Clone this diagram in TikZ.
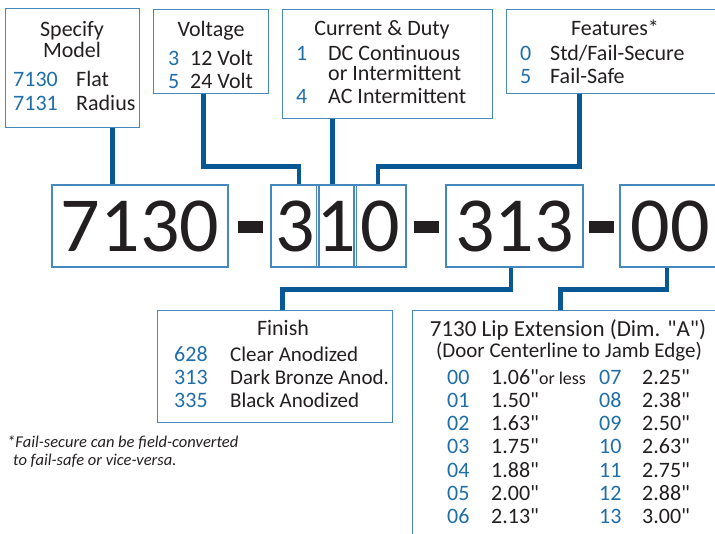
\documentclass[tikz,border=0pt]{standalone}
\usepackage{fontspec}
\setmainfont{Carlito}[Ligatures=TeXOff]
\definecolor{linkblue}{RGB}{8,88,150}
\definecolor{frameblue}{RGB}{70,135,190}
\definecolor{codeblue}{RGB}{30,110,170}
\definecolor{ink}{RGB}{35,31,32}
\begin{document}
\begin{tikzpicture}[x=1pt, y=-1pt,
    infobox/.style={draw=frameblue, line width=1.3pt, anchor=north west, inner sep=0pt},
    digitbox/.style={draw=frameblue, line width=1.3pt, minimum height=82pt, inner sep=0pt,
                     text=ink, font=\fontsize{78}{78}\selectfont},
    dashbar/.style={fill=ink, minimum width=25pt, minimum height=12pt, inner sep=0pt},
    link/.style={linkblue, line width=4.5pt},
    head/.style={anchor=base, inner sep=0pt, text=ink, font=\fontsize{22}{24}\selectfont},
    item/.style={anchor=base west, inner sep=0pt, text=ink, font=\fontsize{22}{24}\selectfont},
    code/.style={item, text=codeblue},
    note/.style={anchor=base west, inner sep=0pt, text=ink, font=\fontsize{16.5}{17}\selectfont\itshape}]
  \useasboundingbox (0,0) rectangle (715,533);
  \clip (0,0) rectangle (715,533);

  % the frames of the five option groups (the last two run off the page)
  \node[infobox, minimum width=134pt, minimum height=119pt] (specbox) at (5,8) {};
  \node[infobox, minimum width=115pt, minimum height=84pt] (voltbox) at (153,9) {};
  \node[infobox, minimum width=210pt, minimum height=109pt] (dutybox) at (282,9) {};
  \node[infobox, minimum width=218pt, minimum height=84pt] (featbox) at (506,9) {};
  \node[infobox, minimum width=235pt, minimum height=112pt] (finbox) at (157,310) {};
  \node[infobox, minimum width=318pt, minimum height=240pt] (lipbox) at (412,310) {};

  % the part number: 7130 - 3 1 0 - 313 - 00
  \node[digitbox, minimum width=176pt] (model) at (140,226) {7130};
  \node[dashbar] (dashA) at (250.5,227) {};
  \node[digitbox, minimum width=48pt] (volt) at (295,226) {3};
  \node[digitbox, minimum width=35pt] (duty) at (336.5,226) {1};
  \node[digitbox, minimum width=52pt] (feat) at (380,226) {0};
  \node[dashbar] (dashB) at (426,227) {};
  \node[digitbox, minimum width=137pt] (finish) at (514.5,226) {313};
  \node[dashbar] (dashC) at (601,227) {};
  \node[digitbox, minimum width=100pt] (ext) at (670,226) {00};

  % Specify Model
  \node[head] (spechead) at (72,36) {Specify};
  \node[head] (spechead2) at (72,57) {Model};
  \node[code] (speccodeA) at (13,86) {7130};
  \node[item] (specitemA) at (76,86) {Flat};
  \node[code] (speccodeB) at (13,110) {7131};
  \node[item] (specitemB) at (76,110) {Radius};

  % Voltage
  \node[head] (volthead) at (211,36) {Voltage};
  \node[code] (voltcodeA) at (168,65) {3};
  \node[item] (voltitemA) at (190,65) {12 Volt};
  \node[code] (voltcodeB) at (168,88) {5};
  \node[item] (voltitemB) at (190,88) {24 Volt};

  % Current & Duty
  \node[head] (dutyhead) at (382,35) {Current \& Duty};
  \node[code] (dutycodeA) at (296,60.5) {1};
  \node[item] (dutyitemA) at (328,60.5) {DC Continuous};
  \node[item] (dutyitemA2) at (328,80.5) {or Intermittent};
  \node[code] (dutycodeB) at (296,103) {4};
  \node[item] (dutyitemB) at (328,103) {AC Intermittent};

  % Features
  \node[head] (feathead) at (615,35) {Features*};
  \node[code] (featcodeA) at (520,60) {0};
  \node[item] (featitemA) at (550,60) {Std/Fail-Secure};
  \node[code] (featcodeB) at (520,83) {5};
  \node[item] (featitemB) at (550,83) {Fail-Safe};

  % Finish
  \node[head] (finhead) at (283,335) {Finish};
  \foreach \code/\name [count=\row from 0] in {628/Clear Anodized, 313/Dark Bronze Anod., 335/Black Anodized}{
    \node[code] (fincode\row) at (174,361+23*\row) {\code};
    \node[item, font=\fontsize{21}{22}\selectfont] (finitem\row) at (230,361+23*\row) {\name};}

  % Lip extension: two columns of seven
  \node[head, font=\fontsize{23}{24}\selectfont] (liphead) at (568,336) {7130 Lip Extension (Dim. "A")};
  \node[head, font=\fontsize{21}{22}\selectfont] (liphead2) at (569,357) {(Door Centerline to Jamb Edge)};
  \foreach \code/\dim [count=\row from 0] in {00/{1.06"{\fontsize{18}{18}\selectfont or less}}, 01/1.50", 02/1.63",
      03/1.75", 04/1.88", 05/2.00", 06/2.13"}{
    \node[code] (lipcode\row) at (447,384+23.3*\row) {\code};
    \node[item] (lipdim\row) at (491,384+23.3*\row) {\dim};}
  \foreach \code/\dim [count=\row from 0] in {07/2.25", 08/2.38", 09/2.50", 10/2.63",
      11/2.75", 12/2.88", 13/3.00"}{
    \node[code] (lipcodeR\row) at (599,384+23.3*\row) {\code};
    \node[item] (lipdimR\row) at (642,384+23.3*\row) {\dim};}

  % footnote
  \node[note] (noteA) at (7,447) {*Fail-secure can be field-converted};
  \node[note] (noteB) at (13,465) {to fail-safe or vice-versa.};

  % connectors from each group to its digits
  \coordinate (upper) at (0,166.5);
  \coordinate (lower) at (0,289.5);
  \draw[link] ([xshift=40pt]specbox.south) -- ([xshift=40pt]specbox.south |- model.north);
  \draw[link] ([xshift=-7.5pt]voltbox.south) |- ([xshift=4pt]volt.north |- upper) -- ([xshift=4pt]volt.north);
  \draw[link] ([xshift=-55pt]dutybox.south) -- ([xshift=-55pt]dutybox.south |- duty.north);
  \draw[link] ([xshift=-36pt]featbox.south) |- ([xshift=-2pt]feat.north |- upper) -- ([xshift=-2pt]feat.north);
  \draw[link] ([xshift=-3.5pt]finish.south) |- ([xshift=7.5pt]finbox.north |- lower) -- ([xshift=7.5pt]finbox.north);
  \draw[link] ([xshift=-3pt]ext.south) |- ([xshift=-11pt]lipbox.north |- lower) -- ([xshift=-11pt]lipbox.north);
\end{tikzpicture}
\end{document}
